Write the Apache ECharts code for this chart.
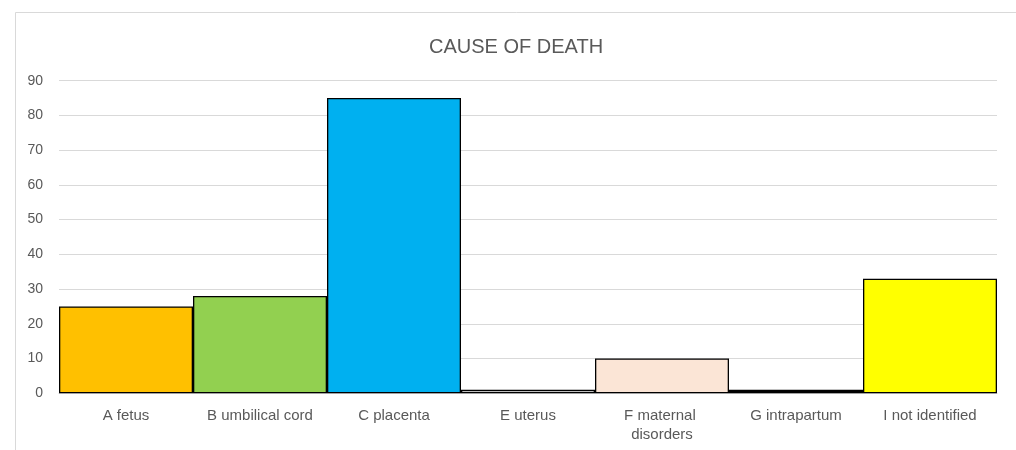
<!DOCTYPE html>
<html>
<head>
<meta charset="utf-8">
<script src="https://cdn.jsdelivr.net/npm/echarts@6/dist/echarts.min.js"></script>
<style>
  html, body { margin: 0; padding: 0; background: #ffffff; }
  #chart { width: 1016px; height: 450px; }
</style>
</head>
<body>
<div id="chart"></div>
<script>
// Causes of death, counts per category
const categories = ['A fetus', 'B umbilical cord', 'C placenta', 'E uterus', 'F maternal disorders', 'G intrapartum', 'I not identified'];
const deaths = [25, 28, 85, 1, 10, 1, 33];
const barColors = ['#FFC000', '#92D050', '#00B0F0', '#FFFFFF', '#FBE5D6', '#000000', '#FFFF00'];
const yTicks = { min: 0, max: 90, interval: 10 };

const chart = echarts.init(document.getElementById('chart'), null, { renderer: 'canvas' });

chart.setOption({
  animation: false,
  backgroundColor: '#ffffff',
  graphic: [{
    type: 'rect',
    shape: { x: 15.5, y: 12.5, width: 1200, height: 600 },
    style: { fill: 'none', stroke: '#d9d9d9', lineWidth: 1 },
    silent: true,
    z: -10
  }],
  title: {
    text: 'CAUSE OF DEATH',
    left: 424,
    top: 32,
    textStyle: { fontFamily: 'Liberation Sans', fontSize: 20, fontWeight: 'normal', color: '#595959' }
  },
  grid: { left: 59, right: 19, top: 80.7, bottom: 56.7, containLabel: false },
  xAxis: {
    type: 'category',
    data: categories,
    axisLine: { show: true, lineStyle: { color: '#d9d9d9', width: 1 } },
    axisTick: { show: false },
    axisLabel: {
      margin: 13,
      interval: 0,
      fontFamily: 'Liberation Sans',
      fontSize: 15,
      color: '#595959',
      width: 110,
      overflow: 'break',
      lineHeight: 19
    }
  },
  yAxis: {
    type: 'value',
    min: yTicks.min, max: yTicks.max, interval: yTicks.interval,
    axisLine: { show: false },
    axisTick: { show: false },
    splitLine: { lineStyle: { color: '#d9d9d9', width: 1 } },
    axisLabel: { margin: 16, fontFamily: 'Liberation Sans', fontSize: 14, color: '#595959' }
  },
  series: [{
    type: 'bar',
    barCategoryGap: '0%',
    data: deaths.map((v, i) => ({
      value: v,
      itemStyle: { color: barColors[i], borderColor: '#000000', borderWidth: 1.3 }
    }))
  }]
});
</script>
</body>
</html>
